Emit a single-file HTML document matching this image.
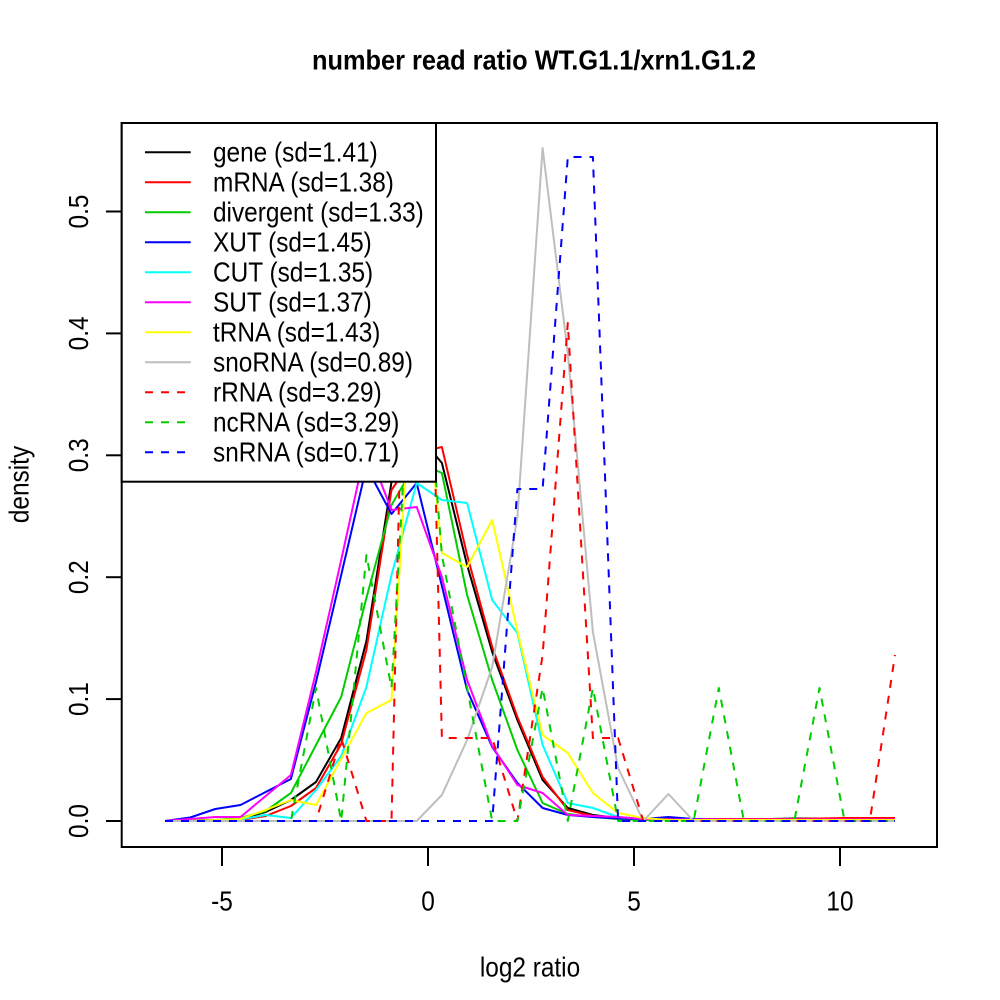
<!DOCTYPE html>
<html>
<head>
<meta charset="utf-8">
<style>
html,body{margin:0;padding:0;background:#fff;}
svg{display:block;}
text{font-family:"Liberation Sans",Arial,Helvetica,sans-serif;fill:#000;}
</style>
</head>
<body>
<svg width="1000" height="1000" viewBox="0 0 1000 1000" xmlns="http://www.w3.org/2000/svg">
<rect x="0" y="0" width="1000" height="1000" fill="#fff"/>
<defs>
<clipPath id="pc"><rect x="121.7" y="123" width="815.3" height="724"/></clipPath>
</defs>

<!-- title -->
<text transform="translate(534,69.3) scale(1,1.12)" text-anchor="middle" font-weight="bold" font-size="25" textLength="444" lengthAdjust="spacingAndGlyphs">number read ratio WT.G1.1/xrn1.G1.2</text>

<!-- series -->
<g clip-path="url(#pc)" fill="none" stroke-width="2" stroke-linejoin="round">
<polyline stroke="#000000" points="165,821 190.2,820.5 215.3,820 240.5,819 265.7,812 290.9,800 316,782 341.2,738 366.4,641 391.5,482 416.7,433 441.9,463 467.1,565 492.2,652 517.4,720 542.6,780 567.8,808 592.9,815 618.1,818 643.3,819 668.4,819.5 693.6,819.5 718.8,819.5 743.9,819.5 769.1,819 794.3,818.5 819.5,818.5 844.6,819 869.8,819.5 895,819.5"/>
<polyline stroke="#FF0000" points="165,821 190.2,821 215.3,820.5 240.5,820 265.7,816 290.9,806 316,788 341.2,744 366.4,650 391.5,490 416.7,453 441.9,447 467.1,555 492.2,647 517.4,717 542.6,777 567.8,810 592.9,816 618.1,818 643.3,819 668.4,819 693.6,819 718.8,819 743.9,819 769.1,819 794.3,819 819.5,818.5 844.6,818 869.8,818 895,818"/>
<polyline stroke="#00CD00" points="165,821 190.2,820.5 215.3,820 240.5,818 265.7,811 290.9,793 316,745 341.2,697 366.4,598 391.5,505 416.7,462 441.9,473 467.1,595 492.2,680 517.4,750 542.6,803 567.8,814 592.9,817 618.1,819 643.3,820 668.4,820 693.6,820 718.8,820 743.9,820 769.1,820 794.3,820 819.5,820 844.6,820 869.8,820 895,820"/>
<polyline stroke="#0000FF" points="165,821 190.2,817.5 215.3,809 240.5,805 265.7,792 290.9,779 316,682 341.2,575 366.4,467 391.5,514 416.7,483 441.9,586 467.1,690 492.2,747 517.4,783 542.6,808 567.8,815 592.9,817 618.1,818.5 643.3,819 668.4,817 693.6,819 718.8,819.5 743.9,819.5 769.1,819.5 794.3,819.5 819.5,819.5 844.6,819.5 869.8,819.5 895,819.5"/>
<polyline stroke="#00FFFF" points="165,821 190.2,821 215.3,820.5 240.5,819.5 265.7,815 290.9,818 316,790 341.2,756 366.4,687 391.5,575 416.7,483 441.9,500 467.1,503 492.2,600 517.4,633 542.6,745 567.8,803 592.9,808 618.1,817 643.3,819 668.4,820 693.6,820 718.8,820 743.9,820 769.1,820 794.3,820 819.5,820 844.6,820 869.8,820 895,820"/>
<polyline stroke="#FF00FF" points="165,821 190.2,819 215.3,817 240.5,817 265.7,796 290.9,775 316,672 341.2,560 366.4,445 391.5,510 416.7,507 441.9,577 467.1,680 492.2,746 517.4,785 542.6,793 567.8,815 592.9,816 618.1,817 643.3,819 668.4,819.5 693.6,819.5 718.8,819.5 743.9,819.5 769.1,819.5 794.3,819.5 819.5,819.5 844.6,819.5 869.8,819.5 895,819.5"/>
<polyline stroke="#FFFF00" points="165,821 190.2,821 215.3,820 240.5,819 265.7,810 290.9,800 316,805 341.2,759 366.4,713 391.5,700 416.7,293 441.9,553 467.1,567 492.2,520 517.4,631 542.6,735 567.8,753 592.9,793 618.1,813 643.3,818 668.4,820 693.6,820 718.8,820 743.9,820 769.1,820 794.3,820 819.5,820 844.6,820 869.8,820 895,820"/>
<polyline stroke="#BEBEBE" points="165,821 190.2,821 215.3,821 240.5,821 265.7,821 290.9,821 316,821 341.2,821 366.4,821 391.5,821 416.7,821 441.9,795 467.1,740 492.2,667 517.4,517 542.6,148 567.8,353 592.9,632 618.1,768 643.3,821 668.4,794 693.6,821 718.8,821 743.9,821 769.1,821 794.3,821 819.5,821 844.6,821 869.8,821 895,821"/>
<polyline stroke="#FF0000" stroke-dasharray="8,8" points="165,821 190.2,821 215.3,821 240.5,821 265.7,821 290.9,821 316,821 341.2,738 366.4,821 391.5,821 416.7,-258 441.9,738 467.1,738 492.2,738 517.4,821 542.6,655 567.8,323 592.9,738 618.1,738 643.3,821 668.4,821 693.6,821 718.8,821 743.9,821 769.1,821 794.3,821 819.5,821 844.6,821 869.8,821 895,655"/>
<polyline stroke="#00CD00" stroke-dasharray="8,8" points="165,821 190.2,821 215.3,821 240.5,821 265.7,821 290.9,821 316,688 341.2,821 366.4,555 391.5,688 416.7,240 441.9,555 467.1,688 492.2,821 517.4,821 542.6,688 567.8,821 592.9,688 618.1,821 643.3,821 668.4,821 693.6,821 718.8,688 743.9,821 769.1,821 794.3,821 819.5,688 844.6,821 869.8,821 895,821"/>
<polyline stroke="#0000FF" stroke-dasharray="8,8" points="165,821 190.2,821 215.3,821 240.5,821 265.7,821 290.9,821 316,821 341.2,821 366.4,821 391.5,821 416.7,821 441.9,821 467.1,821 492.2,821 517.4,489 542.6,489 567.8,157 592.9,157 618.1,821 643.3,821 668.4,821 693.6,821 718.8,821 743.9,821 769.1,821 794.3,821 819.5,821 844.6,821 869.8,821 895,821"/>
</g>

<!-- plot box -->
<rect x="121.7" y="123" width="815.3" height="724" fill="none" stroke="#000" stroke-width="2"/>

<!-- x axis ticks -->
<g stroke="#000" stroke-width="2">
<line x1="222" y1="847" x2="222" y2="866"/>
<line x1="428" y1="847" x2="428" y2="866"/>
<line x1="634" y1="847" x2="634" y2="866"/>
<line x1="840" y1="847" x2="840" y2="866"/>
</g>
<g font-size="24.4" text-anchor="middle">
<text transform="translate(222,910.5) scale(1,1.12)">-5</text>
<text transform="translate(428,910.5) scale(1,1.12)">0</text>
<text transform="translate(634,910.5) scale(1,1.12)">5</text>
<text transform="translate(840,910.5) scale(1,1.12)">10</text>
<text transform="translate(530,976.5) scale(1,1.12)">log2 ratio</text>
</g>

<!-- y axis ticks -->
<g stroke="#000" stroke-width="2">
<line x1="106" y1="821" x2="121.7" y2="821"/>
<line x1="106" y1="699.1" x2="121.7" y2="699.1"/>
<line x1="106" y1="577.2" x2="121.7" y2="577.2"/>
<line x1="106" y1="455.3" x2="121.7" y2="455.3"/>
<line x1="106" y1="333.4" x2="121.7" y2="333.4"/>
<line x1="106" y1="211.5" x2="121.7" y2="211.5"/>
</g>
<g font-size="24.4" text-anchor="middle">
<text transform="translate(88,821) rotate(-90) scale(1,1.12)">0.0</text>
<text transform="translate(88,699.1) rotate(-90) scale(1,1.12)">0.1</text>
<text transform="translate(88,577.2) rotate(-90) scale(1,1.12)">0.2</text>
<text transform="translate(88,455.3) rotate(-90) scale(1,1.12)">0.3</text>
<text transform="translate(88,333.4) rotate(-90) scale(1,1.12)">0.4</text>
<text transform="translate(88,211.5) rotate(-90) scale(1,1.12)">0.5</text>
<text transform="translate(28.5,484.5) rotate(-90) scale(1,1.12)">density</text>
</g>

<!-- legend -->
<rect x="121.7" y="123" width="314.3" height="358.7" fill="#fff" stroke="#000" stroke-width="2"/>
<g stroke-width="2">
<line x1="145" y1="152.3" x2="190.7" y2="152.3" stroke="#000000"/>
<line x1="145" y1="182.3" x2="190.7" y2="182.3" stroke="#FF0000"/>
<line x1="145" y1="212.3" x2="190.7" y2="212.3" stroke="#00CD00"/>
<line x1="145" y1="242.3" x2="190.7" y2="242.3" stroke="#0000FF"/>
<line x1="145" y1="272.3" x2="190.7" y2="272.3" stroke="#00FFFF"/>
<line x1="145" y1="302.3" x2="190.7" y2="302.3" stroke="#FF00FF"/>
<line x1="145" y1="332.3" x2="190.7" y2="332.3" stroke="#FFFF00"/>
<line x1="145" y1="362.3" x2="190.7" y2="362.3" stroke="#BEBEBE"/>
<line x1="145" y1="392.3" x2="190.7" y2="392.3" stroke="#FF0000" stroke-dasharray="8,8"/>
<line x1="145" y1="422.3" x2="190.7" y2="422.3" stroke="#00CD00" stroke-dasharray="8,8"/>
<line x1="145" y1="452.3" x2="190.7" y2="452.3" stroke="#0000FF" stroke-dasharray="8,8"/>
</g>
<g font-size="24.4">
<text transform="translate(213,161.3) scale(1,1.12)">gene (sd=1.41)</text>
<text transform="translate(213,191.3) scale(1,1.12)">mRNA (sd=1.38)</text>
<text transform="translate(213,221.3) scale(1,1.12)">divergent (sd=1.33)</text>
<text transform="translate(213,251.3) scale(1,1.12)">XUT (sd=1.45)</text>
<text transform="translate(213,281.3) scale(1,1.12)">CUT (sd=1.35)</text>
<text transform="translate(213,311.3) scale(1,1.12)">SUT (sd=1.37)</text>
<text transform="translate(213,341.3) scale(1,1.12)">tRNA (sd=1.43)</text>
<text transform="translate(213,371.3) scale(1,1.12)">snoRNA (sd=0.89)</text>
<text transform="translate(213,401.3) scale(1,1.12)">rRNA (sd=3.29)</text>
<text transform="translate(213,431.3) scale(1,1.12)">ncRNA (sd=3.29)</text>
<text transform="translate(213,461.3) scale(1,1.12)">snRNA (sd=0.71)</text>
</g>
</svg>
</body>
</html>
